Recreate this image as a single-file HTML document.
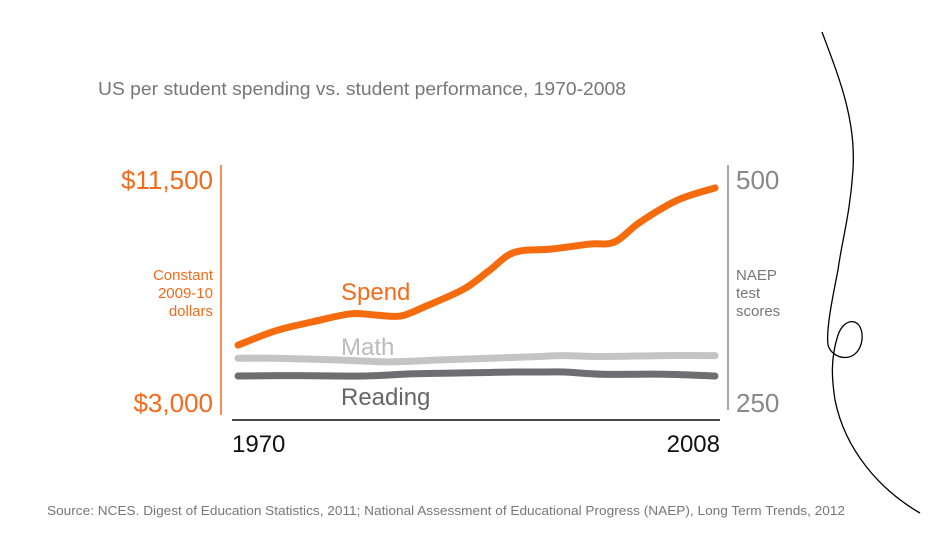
<!DOCTYPE html>
<html><head><meta charset="utf-8"><style>
body{margin:0;background:#fff;width:940px;height:553px;overflow:hidden}
svg text{font-family:"Liberation Sans",sans-serif}
</style></head><body>
<svg width="940" height="553">
<text x="98" y="95" font-size="18" fill="#777" textLength="528" lengthAdjust="spacingAndGlyphs">US per student spending vs. student performance, 1970-2008</text>
<line x1="221" y1="165" x2="221" y2="415" stroke="#f26b1d" stroke-width="1.5"/>
<line x1="728" y1="165" x2="728" y2="410" stroke="#888" stroke-width="1.5"/>
<line x1="232" y1="420" x2="720" y2="420" stroke="#111" stroke-width="1.5"/>
<text x="213" y="189" font-size="26" fill="#f26b1d" text-anchor="end">$11,500</text>
<text x="213" y="412" font-size="26" fill="#f26b1d" text-anchor="end">$3,000</text>
<g font-size="15" fill="#f26b1d" text-anchor="end">
<text x="213" y="280">Constant</text><text x="213" y="298">2009-10</text><text x="213" y="316">dollars</text></g>
<text x="736" y="189" font-size="26" fill="#888">500</text>
<text x="736" y="412" font-size="26" fill="#888">250</text>
<g font-size="15" fill="#777">
<text x="736" y="280">NAEP</text><text x="736" y="298">test</text><text x="736" y="316">scores</text></g>
<text x="232" y="452" font-size="24" fill="#111">1970</text>
<text x="720" y="452" font-size="24" fill="#111" text-anchor="end">2008</text>
<g id="series"></g>
<text x="341" y="300" font-size="24" fill="#f26b1d">Spend</text>
<text x="341" y="355" font-size="24" fill="#bbb">Math</text>
<text x="341" y="405" font-size="24" fill="#666">Reading</text>
<text x="47" y="515" font-size="13" fill="#777" textLength="798" lengthAdjust="spacingAndGlyphs">Source: NCES. Digest of Education Statistics, 2011; National Assessment of Educational Progress (NAEP), Long Term Trends, 2012</text>
<path d="M822,32 C840,80 856,120 853,170 C850,215 842,240 838,270 C832,300 826,330 828,345 C832,360 858,365 862,340 C864,318 845,315 838,335 C830,360 832,380 835,400 C845,450 880,490 920,513" fill="none" stroke="#000" stroke-width="1.3"/>
</svg>
<script>
const spendYears=[1970,1973,1976,1979,1981,1983,1985,1988,1990,1992,1995,1998,2000,2002,2005,2008];
const spendValues=[5100,5650,6000,6300,6250,6220,6600,7250,7950,8650,8780,8970,9050,9800,10650,11120];
const mathYears=[1970,1973,1978,1982,1986,1990,1992,1994,1996,1999,2004,2008];
const mathValues=[297,297,295,293,295,297,298,299,300,299,300,300];
const readingYears=[1970,1975,1980,1984,1988,1990,1992,1994,1996,1999,2004,2008];
const readingValues=[277,277.5,277,279.5,280.5,281,281.5,281.5,281.5,279,279,277];
const xs=y=>238+(y-1970)*(715-238)/38;
const yDollar=v=>400-(v-3000)/8500*222;
const yScore=v=>400-(v-250)/250*222;
const g=document.getElementById('series');
function draw(years,vals,sc,color,name){
  const p=document.createElementNS('http://www.w3.org/2000/svg','path');
  const pts=years.map((y,i)=>[xs(y),sc(vals[i])]);
  let d='M'+pts[0][0]+','+pts[0][1];
  for(let i=1;i<pts.length;i++){
    const p0=pts[i-2]||pts[i-1],p1=pts[i-1],p2=pts[i],p3=pts[i+1]||pts[i];
    const c1=[p1[0]+(p2[0]-p0[0])/6,p1[1]+(p2[1]-p0[1])/6];
    const c2=[p2[0]-(p3[0]-p1[0])/6,p2[1]-(p3[1]-p1[1])/6];
    d+=` C${c1[0]},${c1[1]} ${c2[0]},${c2[1]} ${p2[0]},${p2[1]}`;
  }
  p.setAttribute('d',d);p.setAttribute('fill','none');p.setAttribute('stroke',color);
  p.setAttribute('stroke-width','7');p.setAttribute('stroke-linecap','round');
  
  
  g.appendChild(p);
}
draw(mathYears,mathValues,yScore,'#c4c4c4','math-line');
draw(readingYears,readingValues,yScore,'#6e6e72','reading-line');
draw(spendYears,spendValues,yDollar,'#f66b0e','spend-line');
</script>
</body></html>
